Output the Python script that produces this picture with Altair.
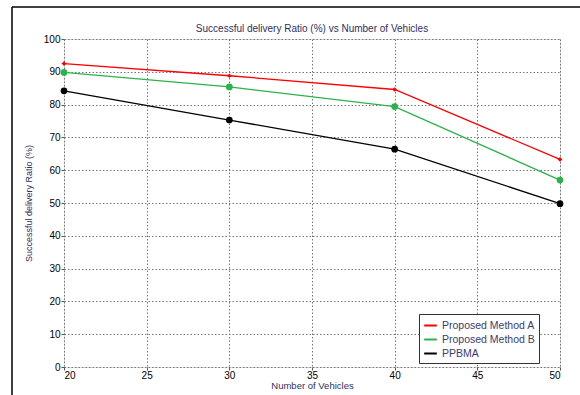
import altair as alt
import pandas as pd

vehicles = [20, 30, 40, 50]
method_a = [92.5, 88.8, 84.6, 63.3]
method_b = [89.8, 85.4, 79.4, 57.0]
ppbma = [84.2, 75.3, 66.4, 49.8]
series_names = ["Proposed Method A", "Proposed Method B", "PPBMA"]
series_colors = ["#ff0000", "#2ab34a", "#000000"]
x_ticks = [20, 25, 30, 35, 40, 45, 50]
y_ticks = [0, 10, 20, 30, 40, 50, 60, 70, 80, 90, 100]
title_text = "Successful delivery Ratio (%) vs Number of Vehicles"

rows = []
for name, vals in zip(series_names, [method_a, method_b, ppbma]):
    for v, y in zip(vehicles, vals):
        rows.append({"Vehicles": v, "Ratio": y, "Series": name})
df = pd.DataFrame(rows)

W, H = 496, 328
label_color = "#3c3c6e"
title_color = "#303060"

x = alt.X("Vehicles:Q", scale=alt.Scale(domain=[20, 50], nice=False),
          axis=alt.Axis(values=x_ticks, title="Number of Vehicles", format="d",
                        grid=True, gridDash=[1.5, 2], gridColor="#777777", gridWidth=1,
                        domain=False, tickSize=3, tickColor="#555555", labelPadding=0,
                        titlePadding=0, titleFontWeight="normal", titleColor=title_color,
                        titleFontSize=9.5))
y = alt.Y("Ratio:Q", scale=alt.Scale(domain=[0, 100], nice=False),
          axis=alt.Axis(values=y_ticks, title="Successful delivery Ratio (%)",
                        grid=True, gridDash=[1.5, 2], gridColor="#777777", gridWidth=1,
                        domain=False, tickSize=3, tickColor="#555555", labelPadding=1,
                        titlePadding=10, titleFontWeight="normal", titleColor=title_color,
                        titleFontSize=9))
color = alt.Color("Series:N", scale=alt.Scale(domain=series_names, range=series_colors),
                  legend=alt.Legend(title=None, orient="none", legendX=355, legendY=275,
                                    fillColor="white", strokeColor="#333333", padding=4,
                                    symbolType="stroke", symbolSize=160, symbolStrokeWidth=2,
                                    labelFontSize=10.5, labelColor=label_color, rowPadding=1,
                                    labelFont="Liberation Sans"))

base = alt.Chart(df)
lines = base.mark_line(strokeWidth=1.3).encode(x=x, y=y, color=color,
                                                 order=alt.Order("Vehicles:Q"))
pts_round = base.transform_filter(alt.datum.Series != "Proposed Method A").mark_point(
    filled=True, size=45, opacity=1).encode(
    x=x, y=y,
    color=alt.Color("Series:N", scale=alt.Scale(domain=series_names, range=series_colors),
                    legend=None))
pts_a = base.transform_filter(alt.datum.Series == "Proposed Method A").mark_point(
    filled=True, size=22, shape="diamond", opacity=1, color="#ff0000").encode(x=x, y=y)

one = pd.DataFrame({"k": [0]})
top_rule = alt.Chart(one).mark_rule(color="black", strokeWidth=1.5).encode(
    x=alt.value(-52), x2=alt.value(520), y=alt.value(-32))
left_rule = alt.Chart(one).mark_rule(color="black", strokeWidth=1.5).encode(
    x=alt.value(-52), y=alt.value(-32), y2=alt.value(360))
title = alt.Chart(pd.DataFrame({"t": [title_text]})).mark_text(
    font="Liberation Sans", fontSize=10, color=title_color, align="center",
    baseline="alphabetic").encode(text="t:N", x=alt.value(W / 2), y=alt.value(-7))

chart = alt.layer(top_rule, left_rule, title, lines, pts_round, pts_a).properties(
    width=W, height=H,
    autosize=alt.AutoSizeParams(type="none"),
    padding={"left": 64, "top": 39, "right": 20, "bottom": 28},
).configure_view(stroke="#888888", strokeWidth=1.5).configure_axis(
    labelFont="Liberation Sans", labelFontSize=9, labelColor=label_color,
    titleFont="Liberation Sans", titleFontWeight="normal"
).configure(background="white")

chart.save("out.html", embed_options={"renderer": "svg", "actions": False})
